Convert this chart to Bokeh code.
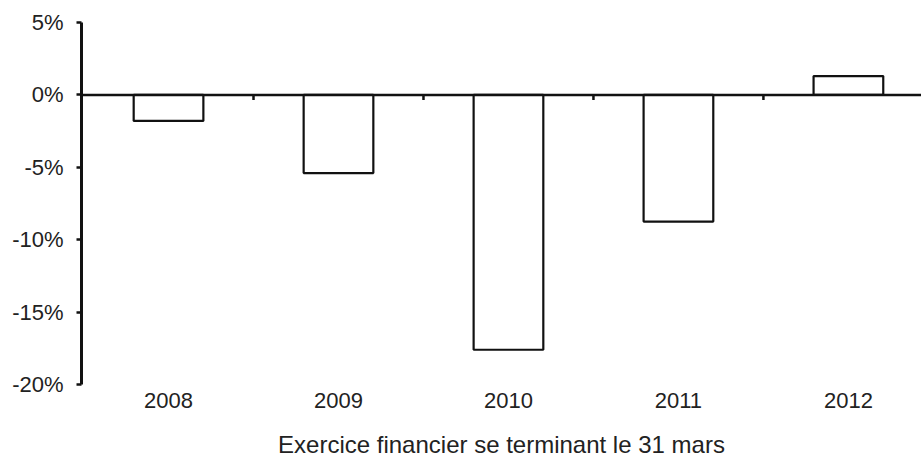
from bokeh.plotting import figure
from bokeh.models import Range1d, Span, FixedTicker, CustomJSTickFormatter, ColumnDataSource
from bokeh.embed import file_html
from bokeh.resources import INLINE

years = ["2008", "2009", "2010", "2011", "2012"]
values = [-1.8, -5.4, -17.6, -8.75, 1.3]
y_ticks = [-20, -15, -10, -5, 0, 5]
x_title = "Exercice financier se terminant le 31 mars"

FONT = "Liberation Sans"
pos = list(range(len(years)))

p = figure(width=921, height=460, output_backend="svg", toolbar_location=None,
           x_range=Range1d(-0.512, 4.43), y_range=Range1d(-20, 5),
           min_border_left=81, min_border_right=0, min_border_top=22, min_border_bottom=76)
p.outline_line_color = None
p.grid.visible = False
p.background_fill_color = "white"
p.border_fill_color = "white"

src = ColumnDataSource(dict(x=pos, top=values))
p.vbar(x="x", top="top", bottom=0, width=0.41, source=src,
       fill_color="white", line_color="#111111", line_width=2.2)

p.add_layout(Span(location=0, dimension="width", line_color="#111111", line_width=2.5))
bounds = [i + 0.5 for i in pos[:-1]]
p.segment(x0=bounds, x1=bounds, y0=[0] * len(bounds), y1=[-0.35] * len(bounds),
          line_color="#111111", line_width=2.5)

ya = p.yaxis[0]
ya.ticker = FixedTicker(ticks=y_ticks)
ya.formatter = CustomJSTickFormatter(code="return tick + '%';")
ya.axis_line_width = 3
ya.axis_line_color = "#111111"
ya.major_tick_out = 5
ya.major_tick_in = 0
ya.major_tick_line_width = 2.5
ya.major_tick_line_color = "#111111"
ya.minor_tick_line_color = None
ya.major_label_text_font = FONT
ya.major_label_text_font_size = "22px"
ya.major_label_text_color = "#222222"
ya.major_label_standoff = 13

xa = p.xaxis[0]
xa.ticker = FixedTicker(ticks=pos)
xa.major_label_overrides = {i: y for i, y in zip(pos, years)}
xa.axis_line_color = None
xa.major_tick_line_color = None
xa.minor_tick_line_color = None
xa.major_tick_out = 0
xa.major_tick_in = 0
xa.major_label_text_font = FONT
xa.major_label_text_font_size = "22px"
xa.major_label_text_color = "#222222"
xa.major_label_standoff = 8
xa.axis_label = x_title
xa.axis_label_text_font = FONT
xa.axis_label_text_font_size = "24px"
xa.axis_label_text_font_style = "normal"
xa.axis_label_text_color = "#222222"
xa.axis_label_standoff = 20

open("out.html", "w").write(file_html(p, INLINE))
